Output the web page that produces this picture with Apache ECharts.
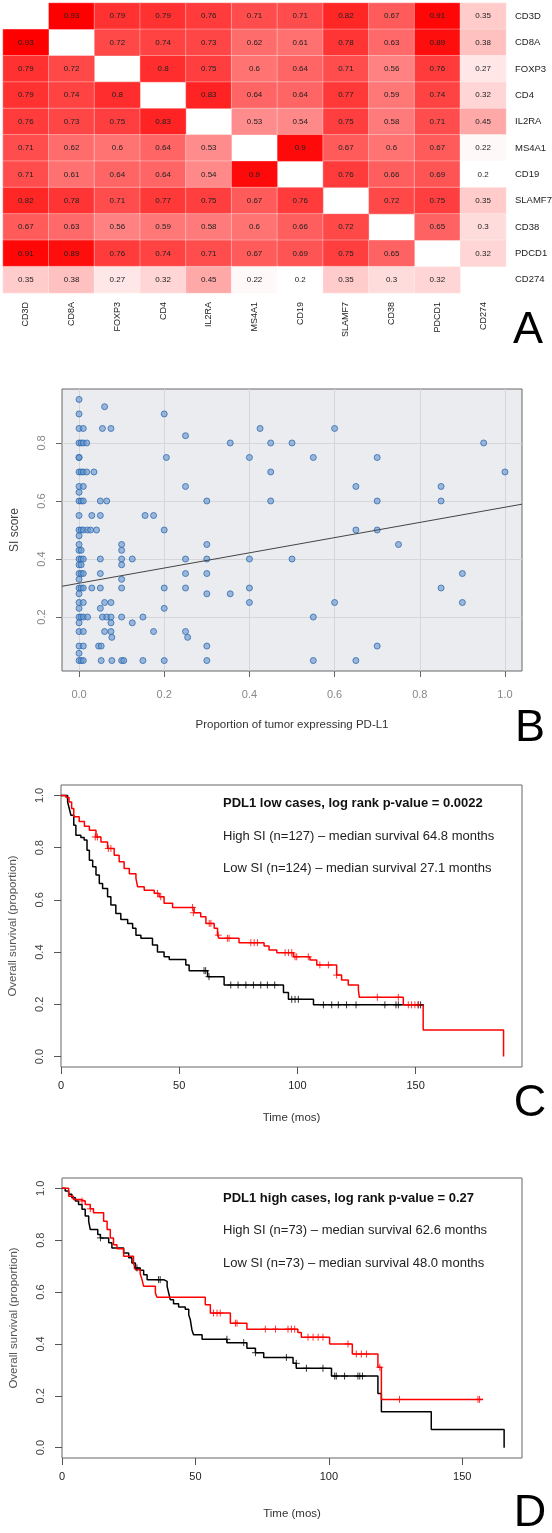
<!DOCTYPE html>
<html><head><meta charset="utf-8">
<script src="https://cdn.jsdelivr.net/npm/echarts@6/dist/echarts.min.js"></script>
<style>html,body{margin:0;padding:0;background:#fff}#c{width:552px;height:1533px}</style>
</head><body><div id="c"></div>
<script>
// ---------- Panel A: correlation heatmap ----------
const genes = ['CD3D','CD8A','FOXP3','CD4','IL2RA','MS4A1','CD19','SLAMF7','CD38','PDCD1','CD274'];
const corrMatrix = [
 [null,.93,.79,.79,.76,.71,.71,.82,.67,.91,.35],
 [.93,null,.72,.74,.73,.62,.61,.78,.63,.89,.38],
 [.79,.72,null,.8,.75,.6,.64,.71,.56,.76,.27],
 [.79,.74,.8,null,.83,.64,.64,.77,.59,.74,.32],
 [.76,.73,.75,.83,null,.53,.54,.75,.58,.71,.45],
 [.71,.62,.6,.64,.53,null,.9,.67,.6,.67,.22],
 [.71,.61,.64,.64,.54,.9,null,.76,.66,.69,.2],
 [.82,.78,.71,.77,.75,.67,.76,null,.72,.75,.35],
 [.67,.63,.56,.59,.58,.6,.66,.72,null,.65,.3],
 [.91,.89,.76,.74,.71,.67,.69,.75,.65,null,.32],
 [.35,.38,.27,.32,.45,.22,.2,.35,.3,.32,null]
];

// ---------- Panel B: scatter ----------
const siX = [
 0,0,0,0.01,0.055,0.075,0.06,0.2,
 0,0.005,0.01,0.018, 0,0, 0,0.005,0.01,0.018,0.035,
 0,0.01,0, 0,0.005,0.01,0.05,0.065,
 0,0.03,0.05,0.155,0.175,
 0,0.005,0.01,0.02,0.027,0.041,0.2,
 0,0,0.1,0.3,0,0.005,0.1,
 0,0.005,0.01,0.05,0.1,0.125,0.1,0,0.005,
 0,0.005,0.01,0.05,0,0.1,
 0,0.005,0.01,0.03,0.05,0.1,0,
 0,0.01,0.06,0.075,0,0.05,0.2,
 0,0.005,0.01,0.02,0.055,0.065,0.075,0.1,0.15,
 0,0.075,0.125,
 0,0.01,0.06,0.075,0.175,0.25,0.077,0.255,
 0,0.01,0.046,0.052,0.3,0.7,0,
 0,0.005,0.01,0.052,0.077,0.1,0.105,0.15,0.2,0.3,0.55,0.65,
 0.25,0.355,0.45,0.425,0.5,0.6,0.205,0.4,0.55,0.7,0.45,0.25,0.65,0.3,0.45,0.7,0.85,0.85,0.95,1.0,
 0.65,0.7,0.75,0.25,0.3,0.4,0.5,0.25,0.3,0.9,0.2,0.25,0.3,0.355,0.4,0.85,0.4,0.6,0.9,0.55
];
const siY = [
 0.95,0.9,0.85,0.85,0.85,0.85,0.925,0.9,
 0.8,0.8,0.8,0.8, 0.75,0.75, 0.7,0.7,0.7,0.7,0.7,
 0.65,0.65,0.63, 0.6,0.6,0.6,0.6,0.6,
 0.55,0.55,0.55,0.55,0.55,
 0.5,0.5,0.5,0.5,0.5,0.5,0.5,
 0.48,0.45,0.45,0.45,0.43,0.43,0.43,
 0.4,0.4,0.4,0.4,0.4,0.4,0.38,0.38,0.38,
 0.35,0.35,0.35,0.35,0.33,0.33,
 0.3,0.3,0.3,0.3,0.3,0.3,0.28,
 0.25,0.25,0.25,0.25,0.23,0.23,0.23,
 0.2,0.2,0.2,0.2,0.2,0.2,0.2,0.2,0.2,
 0.18,0.18,0.18,
 0.15,0.15,0.15,0.15,0.15,0.15,0.13,0.13,
 0.1,0.1,0.1,0.1,0.1,0.1,0.075,
 0.05,0.05,0.05,0.05,0.05,0.05,0.05,0.05,0.05,0.05,0.05,0.05,
 0.825,0.8,0.8,0.85,0.8,0.85,0.75,0.75,0.75,0.75,0.7,0.65,0.65,0.6,0.6,0.6,0.65,0.6,0.8,0.7,
 0.5,0.5,0.45,0.4,0.4,0.4,0.4,0.35,0.35,0.35,0.3,0.3,0.28,0.28,0.3,0.3,0.25,0.25,0.25,0.2
];
const fitIntercept = 0.3165, fitSlope = 0.262;
const bXTicks = [0,0.2,0.4,0.6,0.8,1.0];
const bYTicks = [0.2,0.4,0.6,0.8];

// ---------- Panel C: KM PDL1 low ----------
const cHighT = [0,2.1,3.4,4.5,5.4,7.7,9.9,12,14.8,16.9,19.7,22.5,24.6,26.7,28.9,31.7,32.4,35.2,39.4,41.5,43.6,47.2,56.3,59.1,61.3,64.8,66.2,66.9,75.3,85.9,88,91.3,98.3,105.3,108.2,116.6,118.7,121.5,125.8,126.2,144.8,153.2,187.2];
const cHighS = [1,0.992,0.975,0.95,0.918,0.9,0.882,0.867,0.841,0.822,0.797,0.771,0.746,0.72,0.70,0.682,0.65,0.637,0.625,0.612,0.587,0.571,0.551,0.535,0.51,0.491,0.465,0.453,0.436,0.423,0.408,0.398,0.382,0.37,0.351,0.312,0.293,0.274,0.255,0.227,0.198,0.102,0];
const cLowT = [0,2.8,3.5,4.2,5.4,6.3,8.4,9.8,11,12,13.4,14.8,16.2,17.6,19.7,21.1,23.2,25.3,28.2,30.3,31.7,33.8,38.7,40.8,43.6,45.8,52.8,54.2,62,69,94.1,96.2,106.8,153.2];
const cLowS = [1,0.975,0.95,0.924,0.886,0.848,0.839,0.829,0.79,0.752,0.727,0.695,0.663,0.644,0.612,0.58,0.548,0.525,0.51,0.491,0.465,0.453,0.427,0.40,0.382,0.372,0.351,0.329,0.306,0.274,0.245,0.219,0.198,0.198];
const cHighCensT = [14.5,15.4,20,21.1,40.8,42.2,55.6,56,62.7,63.4,66.5,70.4,71.1,80.3,81.7,83.1,94.8,96.2,97.6,99,99.7,104.6,109.5,113.1,116.6,133.8,142.7,146.9,148.3,149.7,151.1];
const cHighCensS = [0.841,0.841,0.797,0.797,0.625,0.612,0.571,0.551,0.51,0.51,0.465,0.453,0.453,0.436,0.436,0.436,0.398,0.398,0.398,0.382,0.382,0.382,0.351,0.351,0.312,0.227,0.227,0.198,0.198,0.198,0.198];
const cLowCensT = [60.5,61.2,62.6,71.8,74.9,78.2,81.4,84.5,87.3,90.4,97.6,99,100.4,111,114.5,117.3,120.8,124.8,137,141.7,142.7,151.1,152.1];
const cLowCensS = [0.329,0.329,0.306,0.274,0.274,0.274,0.274,0.274,0.274,0.274,0.219,0.219,0.219,0.198,0.198,0.198,0.198,0.198,0.198,0.198,0.198,0.198,0.198];

// ---------- Panel D: KM PDL1 high ----------
const dHighT = [0,2.5,4.3,6.9,8.7,10.6,11.8,15.6,16.9,18.1,19.3,20.6,23.1,26.8,27.5,29.3,30,30.6,35,35.6,53.7,55.6,63.1,69.3,88.4,89.7,100.3,108.8,118.4,119.7,157.8];
const dHighS = [1,0.97,0.957,0.951,0.938,0.921,0.906,0.873,0.841,0.809,0.783,0.767,0.738,0.712,0.686,0.671,0.648,0.622,0.596,0.58,0.551,0.519,0.48,0.457,0.444,0.426,0.40,0.361,0.31,0.186,0.186];
const dLowT = [0,1.2,2.5,3.7,5,6.2,7.5,8.7,10,10.6,13.4,14.4,17.5,18.7,23.1,25,26.2,27.5,29.3,30.6,31.9,38.1,39.4,40,40.6,41.8,43.7,46.2,47.5,48.1,48.7,49.3,52.5,61.8,69.3,72.5,75.6,86.6,87.8,101,118.4,119.7,138.4,165.7];
const dLowS = [1,0.99,0.977,0.964,0.951,0.938,0.919,0.893,0.873,0.841,0.822,0.809,0.79,0.77,0.751,0.732,0.712,0.693,0.684,0.667,0.648,0.641,0.622,0.596,0.57,0.555,0.542,0.534,0.512,0.493,0.454,0.435,0.418,0.405,0.383,0.366,0.348,0.325,0.306,0.276,0.209,0.138,0.07,0];
const dHighCensT = [7.5,10.6,56.8,58.1,59.3,65,65.6,76.2,80,84.7,86,87.2,92.2,94.1,96,97.8,107.2,110.3,112.2,114.1,119.1,126.5,155.9,156.5];
const dHighCensS = [0.951,0.921,0.519,0.519,0.519,0.48,0.48,0.457,0.457,0.457,0.457,0.457,0.426,0.426,0.426,0.426,0.40,0.361,0.361,0.361,0.31,0.186,0.186,0.186];
const dLowCensT = [14.4,28.1,36.2,36.8,61.8,68.1,72.5,84.1,87.8,91.6,97.8,102.2,102.8,105.9,110.9,111.6,112.6];
const dLowCensS = [0.809,0.693,0.648,0.648,0.418,0.405,0.366,0.348,0.325,0.306,0.306,0.276,0.276,0.276,0.276,0.276,0.276];
const kmYTicks = [0,0.2,0.4,0.6,0.8,1.0];
const kmXTicks = [0,50,100,150];

// ---------- build ----------
const FONT = 'Liberation Sans';
const zip = (a, b) => a.map((v, i) => [v, b[i]]);
const heatData = [];
corrMatrix.forEach((row, i) => row.forEach((v, j) => { if (v !== null) heatData.push([j, i, v]); }));
const PLUS = 'path://M0,5L10,5M5,0L5,10';

function kmXAxis(gi, max, gap) {
  return { gridIndex: gi, type: 'value', min: 0, max: max,
    axisLine: { show: false, onZero: false },
    axisTick: { show: true, customValues: kmXTicks, length: 7, lineStyle: { color: '#555' } },
    axisLabel: { customValues: kmXTicks, color: '#222', fontSize: 11, fontFamily: FONT, margin: 13 },
    splitLine: { show: false },
    name: 'Time (mos)', nameLocation: 'middle', nameGap: gap,
    nameTextStyle: { color: '#333', fontSize: 11.5, fontFamily: FONT } };
}
function kmYAxis(gi) {
  return { gridIndex: gi, type: 'value', min: -0.04, max: 1.04,
    axisLine: { show: false, onZero: false },
    axisTick: { show: true, customValues: kmYTicks, length: 7, lineStyle: { color: '#555' } },
    axisLabel: { customValues: kmYTicks, rotate: 90, formatter: v => v.toFixed(1), color: '#444', fontSize: 11, fontFamily: FONT, margin: 16 },
    splitLine: { show: false },
    name: 'Overall survival (proportion)', nameLocation: 'middle', nameGap: 42,
    nameTextStyle: { color: '#555', fontSize: 11.5, fontFamily: FONT } };
}
function kmLine(xi, t, s, color) {
  return { type: 'line', xAxisIndex: xi, yAxisIndex: xi, data: zip(t, s), step: 'end',
    showSymbol: false, symbol: 'none', lineStyle: { color: color, width: 1.5 }, silent: true, z: 3 };
}
function kmCens(xi, t, s, color) {
  return { type: 'scatter', xAxisIndex: xi, yAxisIndex: xi, data: zip(t, s), symbol: PLUS, symbolSize: 7,
    itemStyle: { color: 'rgba(0,0,0,0)', borderColor: color, borderWidth: 1 }, silent: true, z: 4 };
}
function txt(x, y, text, font, fill, align) {
  return { type: 'text', x: x, y: y, silent: true,
    style: { text: text, font: font, fill: fill || '#111', align: align || 'left', verticalAlign: 'middle', textAlign: align || 'left', textVerticalAlign: 'middle' } };
}

const option = {
  animation: false,
  backgroundColor: '#fff',
  grid: [
    { left: 3, top: 3, width: 503, height: 290, outerBoundsMode: 'none' },
    { left: 62, top: 389, width: 460, height: 282, show: true, backgroundColor: '#ebecef', borderColor: '#666', borderWidth: 1, outerBoundsMode: 'none' },
    { left: 61, top: 785, width: 461, height: 282, show: true, backgroundColor: 'transparent', borderColor: '#666', borderWidth: 1, outerBoundsMode: 'none' },
    { left: 62, top: 1178, width: 460, height: 280, show: true, backgroundColor: 'transparent', borderColor: '#666', borderWidth: 1, outerBoundsMode: 'none' }
  ],
  visualMap: { show: false, seriesIndex: 0, min: 0.2, max: 0.93, inRange: { color: ['#ffffff', '#ff0000'] } },
  xAxis: [
    { gridIndex: 0, type: 'category', data: genes, position: 'bottom',
      axisLine: { show: false, onZero: false }, axisTick: { show: false }, splitArea: { show: false },
      axisLabel: { rotate: 90, fontSize: 9, color: '#222', fontFamily: FONT, margin: 9 } },
    { gridIndex: 1, type: 'value', min: -0.04, max: 1.04,
      axisLine: { show: false, onZero: false },
      axisTick: { show: true, customValues: bXTicks, length: 6, lineStyle: { color: '#666' } },
      axisLabel: { customValues: bXTicks, formatter: v => v.toFixed(1), color: '#888', fontSize: 11, fontFamily: FONT, margin: 18 },
      splitLine: { show: true, lineStyle: { color: '#d5d6d9', width: 1 } },
      name: 'Proportion of tumor expressing PD-L1', nameLocation: 'middle', nameGap: 48,
      nameTextStyle: { color: '#333', fontSize: 11.5, fontFamily: FONT } },
    kmXAxis(2, 195, 45),
    kmXAxis(3, 172.4, 50)
  ],
  yAxis: [
    { gridIndex: 0, type: 'category', data: genes, inverse: true, position: 'right',
      axisLine: { show: false, onZero: false }, axisTick: { show: false }, splitArea: { show: false },
      axisLabel: { fontSize: 9.5, color: '#222', fontFamily: FONT, margin: 9 } },
    { gridIndex: 1, type: 'value', min: 0.014, max: 0.986,
      axisLine: { show: false, onZero: false },
      axisTick: { show: true, customValues: bYTicks, length: 6, lineStyle: { color: '#666' } },
      axisLabel: { customValues: bYTicks, rotate: 90, formatter: v => v.toFixed(1), color: '#888', fontSize: 11, fontFamily: FONT, margin: 15 },
      splitLine: { show: true, lineStyle: { color: '#d5d6d9', width: 1 } },
      name: 'SI score', nameLocation: 'middle', nameGap: 41,
      nameTextStyle: { color: '#444', fontSize: 12, fontFamily: FONT } },
    kmYAxis(2),
    kmYAxis(3)
  ],
  series: [
    { type: 'heatmap', xAxisIndex: 0, yAxisIndex: 0, data: heatData,
      label: { show: true, fontSize: 8, color: '#222', fontFamily: FONT, formatter: p => String(p.value[2]) },
      itemStyle: { borderColor: 'rgba(255,255,255,0.35)', borderWidth: 1 }, emphasis: { disabled: true } },
    { type: 'scatter', xAxisIndex: 1, yAxisIndex: 1, data: zip(siX, siY), symbol: 'circle', symbolSize: 6,
      itemStyle: { color: 'rgba(100,148,205,0.75)', borderColor: '#2f6cb0', borderWidth: 1 }, silent: true, z: 3 },
    { type: 'line', xAxisIndex: 1, yAxisIndex: 1, silent: true, showSymbol: false, symbol: 'none',
      data: [[-0.04, fitIntercept + fitSlope * -0.04], [1.04, fitIntercept + fitSlope * 1.04]],
      lineStyle: { color: '#444', width: 1 }, z: 4 },
    kmLine(2, cLowT, cLowS, '#000000'),
    kmLine(2, cHighT, cHighS, '#ff0000'),
    kmCens(2, cLowCensT, cLowCensS, '#000000'),
    kmCens(2, cHighCensT, cHighCensS, '#ff0000'),
    kmLine(3, dLowT, dLowS, '#000000'),
    kmLine(3, dHighT, dHighS, '#ff0000'),
    kmCens(3, dLowCensT, dLowCensS, '#000000'),
    kmCens(3, dHighCensT, dHighCensS, '#ff0000')
  ],
  graphic: [
    txt(528, 331, 'A', '45px "Liberation Sans"', '#000', 'center'),
    txt(530, 729, 'B', '45px "Liberation Sans"', '#000', 'center'),
    txt(530, 1104, 'C', '45px "Liberation Sans"', '#000', 'center'),
    txt(530, 1514, 'D', '45px "Liberation Sans"', '#000', 'center'),
    txt(223, 803, 'PDL1 low cases, log rank p-value = 0.0022', 'bold 13px "Liberation Sans"', '#111'),
    txt(223, 836, 'High SI (n=127) \u2013 median survival 64.8 months', '13px "Liberation Sans"', '#222'),
    txt(223, 868, 'Low SI (n=124) \u2013 median survival 27.1 months', '13px "Liberation Sans"', '#222'),
    txt(223, 1198, 'PDL1 high cases, log rank p-value = 0.27', 'bold 13px "Liberation Sans"', '#111'),
    txt(223, 1230, 'High SI (n=73) \u2013 median survival 62.6 months', '13px "Liberation Sans"', '#222'),
    txt(223, 1263, 'Low SI (n=73) \u2013 median survival 48.0 months', '13px "Liberation Sans"', '#222')
  ]
};
const chart = echarts.init(document.getElementById('c'), null, { renderer: 'canvas', width: 552, height: 1533 });
chart.setOption(option);
</script></body></html>
